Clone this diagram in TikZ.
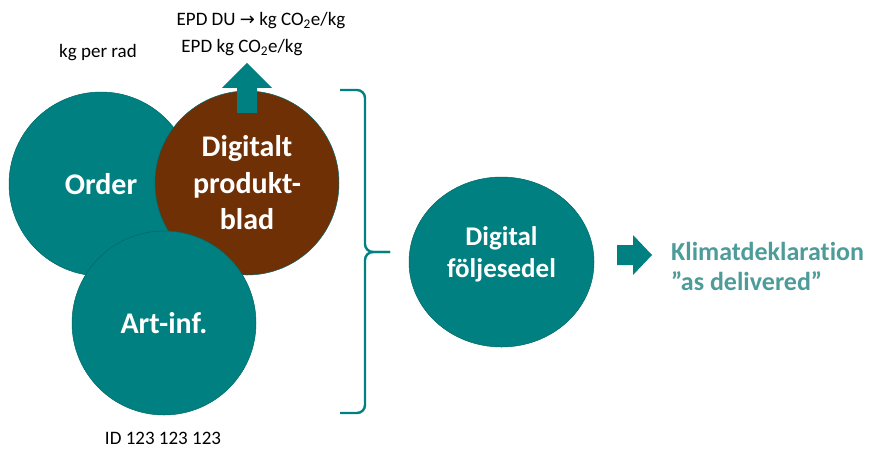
\documentclass[tikz,border=0pt]{standalone}
\usepackage{fontspec}
\setmainfont{Carlito}[Ligatures=NoCommon]
\newfontfamily\pilfont{DejaVu Sans}
\usepackage{xcolor}
\usepackage{tikz}
\usetikzlibrary{calc,shapes.geometric}
\definecolor{petrol}{RGB}{0,128,128}
\definecolor{petrolkant}{RGB}{0,104,104}
\definecolor{rost}{RGB}{112,48,6}
\definecolor{petrolljus}{RGB}{78,156,154}
\newcommand{\COkg}{CO\textsubscript{2}e/kg}
\tikzset{
  blob/.style={circle,fill=petrol,draw=petrolkant,line width=0.5pt,minimum size=184pt,inner sep=0pt},
  blobtext/.style={text=white,align=center,inner sep=0pt,font=\fontsize{30}{36.5}\selectfont\bfseries},
  notis/.style={inner sep=0pt,font=\fontsize{19}{23}\selectfont},
  klamrar/.style={draw=petrol,line width=2.4pt,rounded corners=8pt}
}

\begin{document}
\begin{tikzpicture}[x=1pt,y=-1pt]
\useasboundingbox (0,0) rectangle (870,448);
% cirklarna
\node[blob] (order) at (101,184) {};
\node[blobtext] (ordertext) at (order.center) {Order};
\node[blob,fill=rost] (dpb) at (247,183) {};
\node[blobtext] (dpbtext) at (dpb.center) {Digitalt\\produkt-\\blad};
\node[blob] (art) at (164,323) {};
\node[blobtext] (arttext) at (art.center) {Art-inf.};
\node[blob,ellipse,minimum width=185pt,minimum height=170pt] (dfs) at (501.5,262) {};
\node[blobtext,font=\fontsize{27}{32}\selectfont\bfseries] (dfstext) at (501.5,254) {Digital\\följesedel};

% pil upp ur produktbladet
\fill[petrol] ($(dpb.north)+(-10,22)$) -- ($(dpb.north)+(10,22)$) -- ($(dpb.north)+(10,-3)$)
   -- ($(dpb.north)+(25,-3)$) -- ($(dpb.north)+(0,-28)$) -- ($(dpb.north)+(-25,-3)$)
   -- ($(dpb.north)+(-10,-3)$) -- cycle;

% texter
\node[notis] (epddu) at (261,21) {EPD DU {\pilfont\fontsize{18}{22}\selectfont →} kg \COkg};
\node[notis] (epdkg) at (242,48) {EPD kg \COkg};
\node[notis] (kgrad) at (98,53) {kg per rad};
\node[notis,anchor=base] (idnr) at (163,444) {ID 123 123 123};

% klammern
\coordinate (klamtopp) at (340,90);
\coordinate (klamspets) at (390,252);
\coordinate (klambotten) at (340,413);
\draw[klamrar] (klamtopp) -| (365,252) -- (klamspets);
\draw[klamrar] (klamspets) -- (365,252) |- (klambotten);

% pil till klimatdeklarationen
\node[anchor=west,align=left,inner sep=0pt,text=petrolljus,font=\fontsize{26}{30}\selectfont\bfseries]
   (klimat) at (671,266) {Klimatdeklaration\\”as delivered”};
\coordinate (pilspets) at (652,255);
\fill[petrol] ($(pilspets)+(-35,-10)$) -- ($(pilspets)+(-19,-10)$) -- ($(pilspets)+(-19,-20)$)
   -- (pilspets) -- ($(pilspets)+(-19,20)$) -- ($(pilspets)+(-19,10)$) -- ($(pilspets)+(-35,10)$) -- cycle;
\end{tikzpicture}
\end{document}
